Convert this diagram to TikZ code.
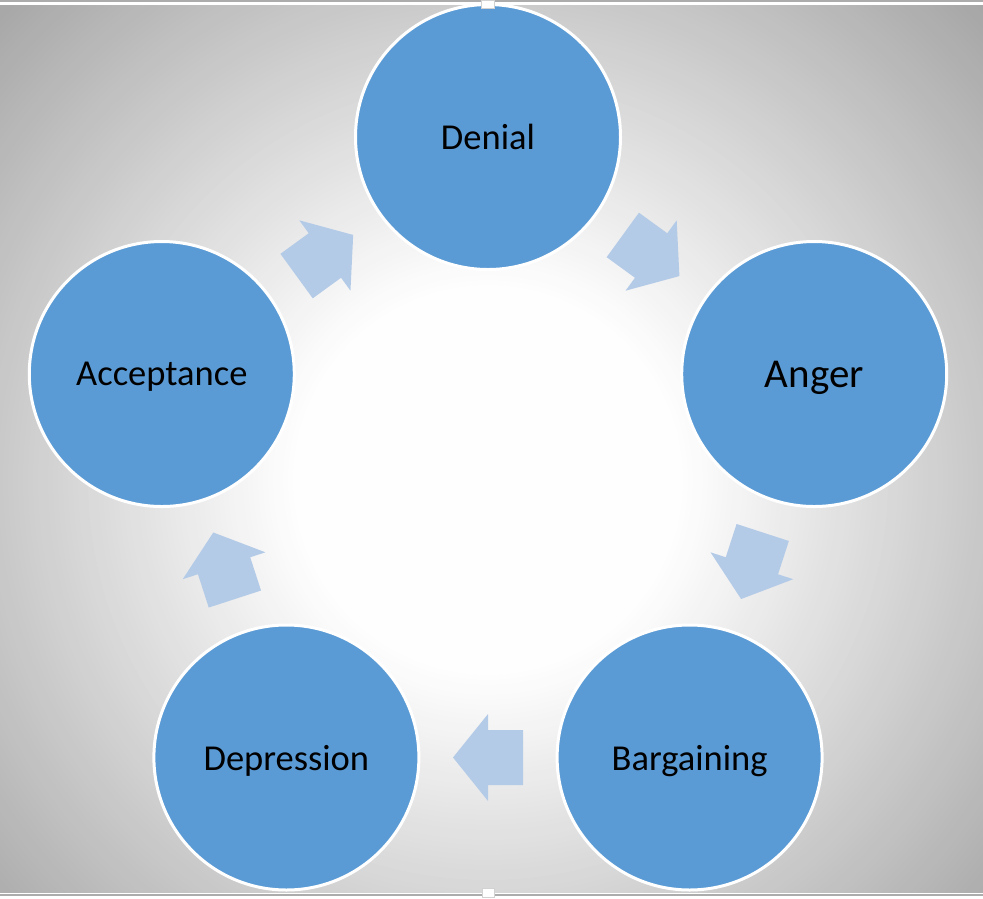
\documentclass[tikz,border=0pt]{standalone}
\usepackage{fontspec}
\setmainfont{Carlito}
\usetikzlibrary{calc}
\definecolor{circblue}{HTML}{5B9BD5}
\definecolor{arrblue}{HTML}{B4CBE8}
\tikzset{
  stage/.style={circle, fill=circblue, draw=white, line width=3pt, minimum size=265pt, inner sep=0pt, text=black, text depth=0pt, font=\fontsize{36.5}{40}\selectfont},
  bigstage/.style={stage, font=\fontsize{41}{45}\selectfont},
  flowarrow/.style={fill=arrblue, draw=none},
  handle/.style={fill=white, draw=gray!35, line width=0.8pt},
  frameline/.style={draw=gray!65, line width=1.5pt}
}
\begin{document}
\begin{tikzpicture}[x=1pt,y=1pt]
\useasboundingbox (0,0) rectangle (983,-898);
\fill[white] (0,0) rectangle (983,-898);
\coordinate (C) at (488,-480);
\begin{scope}
  \clip (0,-5) rectangle (983,-892);
  \foreach \r in {700,695,...,195}{
    \pgfmathsetmacro\p{0.07*(\r-190)}
    \fill[black!\p!white] (C) circle (\r);
  }
\end{scope}
\draw[frameline] (0,-1) -- (983,-1);
\draw[frameline] (0,-895) -- (983,-895);
\node[stage] (den) at ($(C)+(90:343)$) {Denial};
\node[bigstage] (ang) at ($(C)+(18:343)$) {Anger};
\node[stage] (bar) at ($(C)+(-54:343)$) {Bargaining};
\node[stage] (dep) at ($(C)+(-126:343)$) {Depression};
\node[stage] (acc) at ($(C)+(162:343)$) {Acceptance};
\foreach \s/\t/\r in {den/ang/-36, ang/bar/-108, bar/dep/-180, dep/acc/108, acc/den/36}{
  \coordinate (m-\s) at ($(\s)!0.5!(\t)$);
  \begin{scope}[shift={(m-\s)}, rotate=\r]
    \fill[flowarrow] (-35,-27.5) -- (0,-27.5) -- (0,-43.5) -- (35,0) -- (0,43.5) -- (0,27.5) -- (-35,27.5) -- cycle;
  \end{scope}
}
\draw[handle] (481.5,-0.4) rectangle (494,-8.5);
\draw[handle] (482,-888.5) rectangle (494,-897.6);
\end{tikzpicture}
\end{document}
